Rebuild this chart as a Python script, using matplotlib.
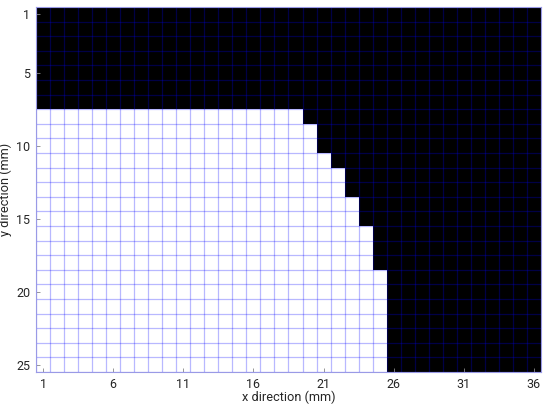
import numpy as np
import matplotlib
matplotlib.use("Agg")
import matplotlib.pyplot as plt

plt.rcParams['font.family'] = ['Roboto', 'DejaVu Sans']

n_rows = 25
n_cols = 36
# number of white cells (from the left) in each row, rows 1..25
white_extent = [0, 0, 0, 0, 0, 0, 0, 19, 20, 20, 21, 22, 22, 23, 23,
                24, 24, 24, 25, 25, 25, 25, 25, 25, 25]
x_ticks = [1, 6, 11, 16, 21, 26, 31, 36]
y_ticks = [1, 5, 10, 15, 20, 25]

img = np.zeros((n_rows, n_cols))
for r, w in enumerate(white_extent):
    img[r, :w] = 1

fig = plt.figure(figsize=(5.5, 4.11), dpi=100)
ax = fig.add_axes([0.0655, 0.095, 0.918, 0.888])
ax.imshow(img, cmap='gray', vmin=0, vmax=1, aspect='auto',
          extent=(0.5, n_cols + 0.5, n_rows + 0.5, 0.5), interpolation='nearest')

for x in np.arange(0.5, n_cols + 1, 1):
    ax.axvline(x, color=(0.0, 0.0, 1.0), alpha=0.28, lw=0.9)
for y in np.arange(0.5, n_rows + 1, 1):
    ax.axhline(y, color=(0.0, 0.0, 1.0), alpha=0.28, lw=0.9)

ax.set_xlim(0.5, n_cols + 0.5)
ax.set_ylim(n_rows + 0.5, 0.5)
ax.set_xticks(x_ticks)
ax.set_yticks(y_ticks)
ax.tick_params(direction='in', length=3, width=0.6, color='#888888',
               labelsize=9, labelcolor='#262626', pad=4)
for s in ax.spines.values():
    s.set_color('#9a9ae6')
    s.set_linewidth(0.8)
ax.set_xlabel('x direction (mm)', fontsize=9.2, color='#262626', labelpad=0)
ax.set_ylabel('y direction (mm)', fontsize=9.2, color='#262626', labelpad=3)

fig.savefig('out.png', dpi=100)
